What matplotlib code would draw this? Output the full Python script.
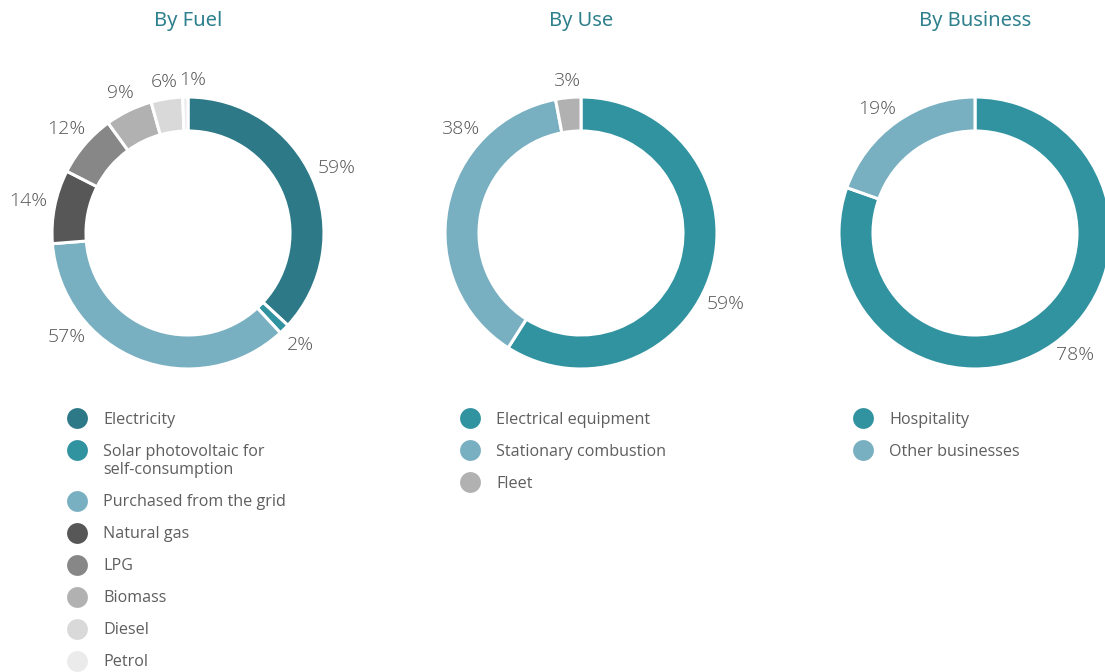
import matplotlib
matplotlib.use("Agg")
import matplotlib.pyplot as plt
import numpy as np

# ---------------- data ----------------
fuel_labels = ["Electricity", "Solar photovoltaic for\nself-consumption", "Purchased from the grid",
               "Natural gas", "LPG", "Biomass", "Diesel", "Petrol"]
fuel_values = [59, 2, 57, 14, 12, 9, 6, 1]

use_labels = ["Electrical equipment", "Stationary combustion", "Fleet"]
use_values = [59, 38, 3]

business_labels = ["Hospitality", "Other businesses"]
business_values = [78, 19]

titles = ["By Fuel", "By Use", "By Business"]

# ---------------- style ----------------
fuel_colors = ["#2D7987", "#3192A0", "#79B0C1", "#575757", "#878787", "#B1B1B1", "#D9D9D9", "#EBEBEB"]
use_colors = ["#3192A0", "#79B0C1", "#B1B1B1"]
business_colors = ["#3192A0", "#79B0C1"]
# label angle shifts (degrees, clockwise) to mimic the original label placement
fuel_shift = [0, 0, 28, 0, 0, 0, 0, 3]
use_shift = [10, 30, 0]
business_shift = [-4, -3]

W, H = 1105, 672
TITLE_COLOR = "#2E808D"
TEXT_COLOR = "#555555"
LEGEND_COLOR = "#5E5E5E"
FONT = ["Open Sans", "DejaVu Sans"]
TITLE_FONT = ["Noto Sans", "Open Sans", "DejaVu Sans"]

fig = plt.figure(figsize=(W / 100, H / 100), dpi=100)
ax = fig.add_axes([0, 0, 1, 1])

centers_x = [188, 581, 975]
center_y = 233
R = 136
WIDTH = 0.25
legend_x = [77, 470, 863]

charts = [
    (fuel_labels, fuel_values, fuel_colors, fuel_shift),
    (use_labels, use_values, use_colors, use_shift),
    (business_labels, business_values, business_colors, business_shift),
]

for i, (labels, values, colors, shift) in enumerate(charts):
    cx, cy = centers_x[i], H - center_y
    ax.pie(values, colors=colors, startangle=90, counterclock=False,
           center=(cx, cy), radius=R, normalize=True,
           wedgeprops=dict(width=R * WIDTH, edgecolor="white", linewidth=2.2))
    total = float(sum(values))
    start = 0.0
    for v, s in zip(values, shift):
        frac = v / total * 360.0
        mid = start + frac / 2 + s
        start += frac
        ang = np.deg2rad(mid)
        hw, hh = 18.0, 8.0
        d = R + 9 + np.hypot(hw * np.sin(ang), hh * np.cos(ang))
        lx = cx + d * np.sin(ang)
        ly = cy + d * np.cos(ang)
        ax.text(lx, ly, f"{v}%", ha="center", va="center", fontsize=14,
                color=TEXT_COLOR, family=FONT, fontweight="light")
    # title
    ax.text(cx, H - 21, titles[i], ha="center", va="center", fontsize=14.5,
            color=TITLE_COLOR, family=TITLE_FONT, fontweight=500)
    # legend
    y = 418
    for lab, col in zip(labels, colors):
        ax.scatter([legend_x[i]], [H - y], s=225, color=col, linewidths=0)
        for k, line in enumerate(lab.split("\n")):
            ax.text(legend_x[i] + 26, H - y - 19 * k - 1.5, line, ha="left", va="center",
                    fontsize=11.6, color=LEGEND_COLOR, family=FONT, fontweight="normal")
        y += 32 + 19 * lab.count("\n")

ax.set_xlim(0, W)
ax.set_ylim(0, H)
ax.set_aspect("equal", adjustable="box")
ax.axis("off")
fig.savefig("out.png", dpi=100, facecolor="white")
